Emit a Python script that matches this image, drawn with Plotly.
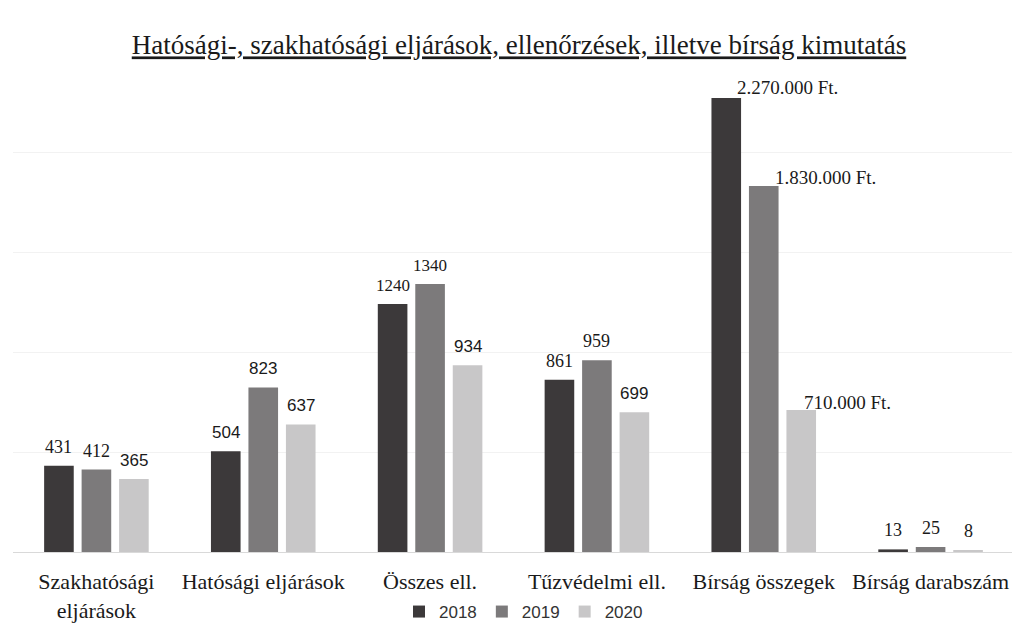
import plotly.graph_objects as go

categories = ["Szakhatósági<br>eljárások", "Hatósági eljárások", "Összes ell.",
              "Tűzvédelmi ell.", "Bírság összegek", "Bírság darabszám"]
years = ["2018", "2019", "2020"]
# Bírság összegek plotted in thousand Ft
v2018 = [431, 504, 1240, 861, 2270, 13]
v2019 = [412, 823, 1340, 959, 1830, 25]
v2020 = [365, 637, 934, 699, 710, 8]
fine_labels = ["2.270.000 Ft.", "1.830.000 Ft.", "710.000 Ft."]

series = [v2018, v2019, v2020]
colors = ["#3c393a", "#7c7a7b", "#c8c7c8"]
fine_idx = categories.index("Bírság összegek")

SERIF = "Liberation Serif"
SANS = "Liberation Sans"
# label font per series/category (the scanned original mixes two fonts)
label_fonts = [
    [SERIF, SANS, SERIF, SERIF, SERIF, SERIF],
    [SERIF, SANS, SERIF, SERIF, SERIF, SERIF],
    [SANS, SANS, SANS, SANS, SERIF, SERIF],
]

W, H = 1012, 635          # page body has an 8px margin
L, R, T, B = 4.5, 5.5, 44, 91
plot_w = W - L - R
cat_w = plot_w / len(categories)
bargap, bargroupgap = 0.326, 0.21
slot = cat_w * (1 - bargap) / len(years)

fig = go.Figure()
for yr, vals, col in zip(years, series, colors):
    fig.add_trace(go.Bar(
        name=yr, x=categories, y=vals, marker=dict(color=col, line=dict(width=0)),
    ))

for k, vals in enumerate(series):
    for i, v in enumerate(vals):
        if i == fine_idx:
            continue
        fam = label_fonts[k][i]
        size = 17 if v >= 1000 else (17 if fam == SANS else 18)
        fig.add_annotation(x=categories[i], y=v, xref="x", yref="y", text=str(v),
                           showarrow=False, xanchor="center", yanchor="middle",
                           xshift=(k - 1) * slot, yshift=19,
                           font=dict(family=fam, size=size, color="#1a1a1a"))

# Ft labels, shifted right as in the original
xshifts = [-29, 9, 38]
yshifts = [11, 9, 8]
for k, (vals, lab) in enumerate(zip(series, fine_labels)):
    fig.add_annotation(x=categories[fine_idx], y=vals[fine_idx], xref="x", yref="y",
                       text=lab, showarrow=False, xanchor="left", yanchor="middle",
                       xshift=xshifts[k], yshift=yshifts[k],
                       font=dict(family=SERIF, size=19, color="#1a1a1a"))

fig.update_layout(
    width=W, height=H,
    paper_bgcolor="white", plot_bgcolor="white",
    margin=dict(l=L, r=R, t=T, b=B, pad=0),
    barmode="group", bargap=bargap, bargroupgap=bargroupgap,
    title=dict(text="<u>Hatósági-, szakhatósági eljárások, ellenőrzések, illetve bírság kimutatás</u>",
               x=511 / W, xanchor="center", y=1 - 37 / H, yanchor="middle",
               font=dict(family=SERIF, size=27, color="#1a1a1a")),
    legend=dict(orientation="h", x=0.51, xanchor="center", y=-0.12, yanchor="middle",
                font=dict(family=SANS, size=17, color="#333333"),
                itemwidth=30, tracegroupgap=0),
    xaxis=dict(showline=True, linecolor="#d9d9d9", linewidth=1, ticks="",
               ticklabelstandoff=10,
               tickfont=dict(family=SERIF, size=22, color="#1a1a1a")),
    yaxis=dict(range=[0, 2500], showticklabels=False, showgrid=True, gridcolor="#f2f2f2",
               dtick=500, zeroline=False),
)
fig.write_html("out.html")
